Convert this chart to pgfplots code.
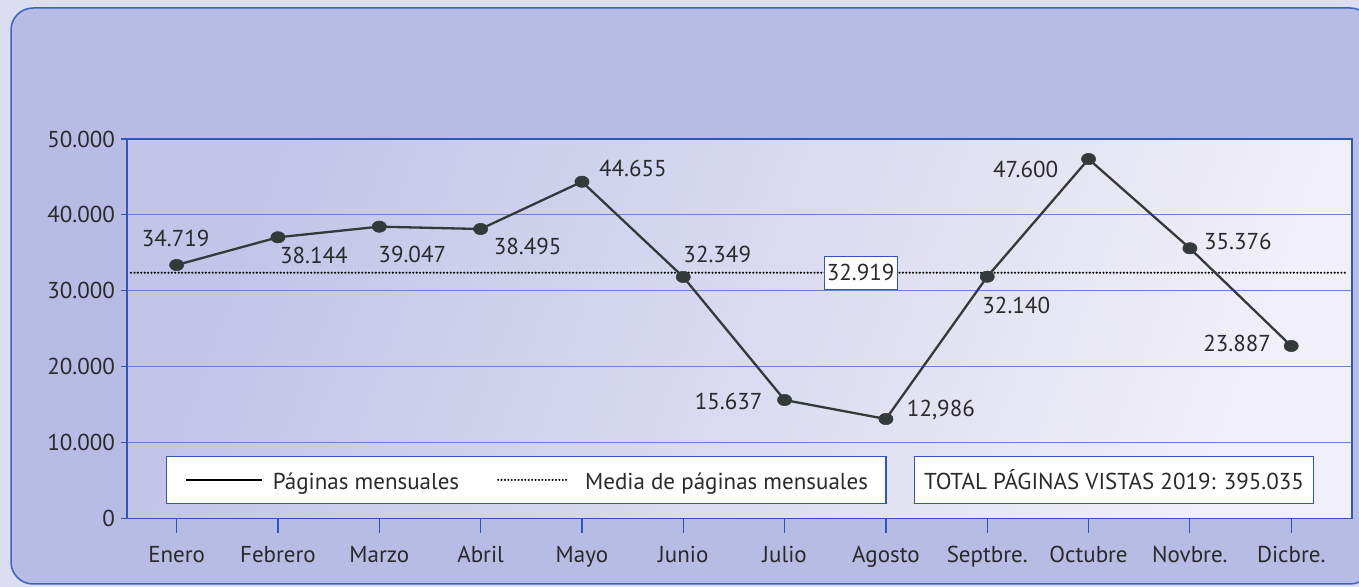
\documentclass[border=0pt]{standalone}
\usepackage{fontspec}
\setmainfont{PT Sans}
\usepackage{pgfplots}
\pgfplotsset{compat=1.18}
\definecolor{outerbg}{HTML}{DCDDF0}
\definecolor{panel}{HTML}{B7BCE4}
\definecolor{panelborder}{HTML}{3A63C4}
\definecolor{axisblue}{HTML}{2F56B8}
\definecolor{gridblue}{HTML}{6484D2}
\definecolor{plotA}{HTML}{C2C5E8}
\definecolor{plotB}{HTML}{F1EFF8}
\definecolor{linegray}{HTML}{343A3A}
\definecolor{txt}{HTML}{2B2A2B}
\begin{document}
\fontsize{23bp}{27bp}\selectfont
\begin{tikzpicture}
\useasboundingbox (0bp,0bp) rectangle (1359bp,587bp);
\fill[outerbg] (0bp,0bp) rectangle (1359bp,587bp);
\draw[panelborder, fill=panel, line width=1.5bp, rounded corners=22bp] (11bp,3bp) rectangle (1372bp,579bp);
\begin{axis}[
  at={(127bp,68.5bp)}, anchor=south west,
  scale only axis, width=1225bp, height=379.5bp,
  xmin=-0.49, xmax=11.6, ymin=0, ymax=50,
  xtick={0,1,2,3,4,5,6,7,8,9,10,11},
  xticklabels={Enero,Febrero,Marzo,Abril,Mayo,Junio,Julio,Agosto,Septbre.,Octubre,Novbre.,Dicbre.},
  ytick={0,10,20,30,40,50},
  yticklabels={0,10.000,20.000,30.000,40.000,50.000},
  tick pos=left, tick align=outside,
  xtick style={draw=axisblue, line width=1.2bp, /pgfplots/major tick length=14bp},
  ytick style={draw=axisblue, line width=1.2bp, /pgfplots/major tick length=6bp},
  ymajorgrids, grid style={gridblue, line width=1.2bp},
  axis line style={axisblue, line width=1.3bp},
  axis background/.style={left color=plotA, right color=plotB, shading angle=70},
  tick label style={text=txt, font=\fontsize{23bp}{27bp}\selectfont},
  xticklabel style={yshift=-16bp},
  legend style={at={(0.0318,0.0382)}, anchor=south west, draw=axisblue, line width=1.2bp, fill=white,
    inner xsep=18bp, inner ysep=9bp, column sep=0bp, row sep=0bp,
    font=\fontsize{23bp}{27bp}\selectfont, text=txt,
    nodes={inner sep=0bp, text height=24bp, text depth=5bp}},
  legend columns=2,
]
\addplot[black, line width=2.3bp, line cap=round, dash pattern=on 0bp off 3.4bp, forget plot] coordinates {(-0.45,32.38) (11.55,32.38)};
\addplot[linegray, line width=2.3bp, mark=*, mark size=5.7bp,
  mark options={solid, xscale=1.25, fill=linegray, draw=linegray, line width=0.5bp},
  legend image code/.code={\draw[black, line width=2.3bp] (0bp,0bp) -- (76bp,0bp); \path (86bp,0bp);}]
  coordinates {(0,33.4) (1,37.05) (2,38.45) (3,38.14) (4,44.37) (5,31.82) (6,15.61) (7,13.11) (8,31.86) (9,47.36) (10,35.6) (11,22.73)};
\addlegendentry{Páginas mensuales}
\addlegendimage{black, line width=2bp,
  legend image code/.code={\path (-38bp,0bp); \draw[black, line width=2.3bp, line cap=round, dash pattern=on 0bp off 3.4bp] (0bp,0bp) -- (71bp,0bp); \path (86bp,0bp);}}
\addlegendentry{Media de páginas mensuales}
\node[text=txt, xshift=-1bp, yshift=27bp] at (axis cs:0,33.4) {34.719};
\node[text=txt, xshift=36bp, yshift=-18bp] at (axis cs:1,37.05) {38.144};
\node[text=txt, xshift=33bp, yshift=-28bp] at (axis cs:2,38.45) {39.047};
\node[text=txt, xshift=47bp, yshift=-17bp] at (axis cs:3,38.14) {38.495};
\node[text=txt, xshift=51bp, yshift=13bp] at (axis cs:4,44.37) {44.655};
\node[text=txt, xshift=34bp, yshift=23bp] at (axis cs:5,31.82) {32.349};
\node[text=txt, xshift=-56bp, yshift=-1bp] at (axis cs:6,15.61) {15.637};
\node[text=txt, xshift=55bp, yshift=9bp] at (axis cs:7,13.11) {12,986};
\node[text=txt, xshift=29bp, yshift=-29bp] at (axis cs:8,31.86) {32.140};
\node[text=txt, xshift=-63bp, yshift=-10bp] at (axis cs:9,47.36) {47.600};
\node[text=txt, xshift=48bp, yshift=7bp] at (axis cs:10,35.6) {35.376};
\node[text=txt, xshift=-54bp, yshift=3bp] at (axis cs:11,22.73) {23.887};
\node[draw=axisblue, fill=white, line width=1bp, minimum width=73bp, minimum height=33bp, inner sep=0bp, text=txt] at (axis cs:6.75,32.38) {32.919};
\node[draw=axisblue, line width=1.2bp, fill=white, anchor=south west, minimum width=399bp, minimum height=47bp, inner sep=0bp, text=txt] at (axis description cs:0.6424,0.0382) {TOTAL PÁGINAS VISTAS 2019: 395.035};
\end{axis}
\end{tikzpicture}
\end{document}
